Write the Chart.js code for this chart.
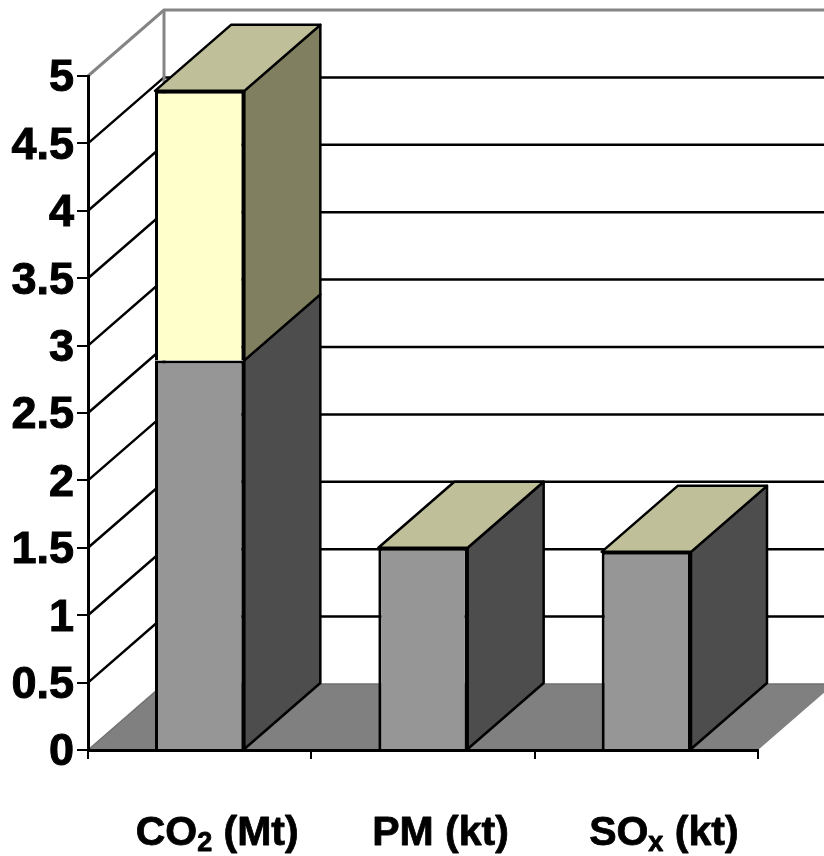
<!DOCTYPE html>
<html>
<head>
<meta charset="utf-8">
<title>Emissions</title>
<script src="https://cdn.jsdelivr.net/npm/chart.js@4"></script>
<style>
    html, body { margin: 0; padding: 0; background: #fff; }
    canvas { display: block; }
</style>
</head>
<body>
<canvas id="emissionsChart" width="824" height="856"></canvas>
<script>
const categories = ['CO₂ (Mt)', 'PM (kt)', 'SOₓ (kt)'];
const lowerValues = [2.89, 1.5, 1.47];
const upperValues = [2.0, null, null];

const depthX = 76;
const depthY = -66;
const fontFamily = '"Liberation Sans", Arial, sans-serif';
const subscripts = { '₂': '2', 'ₓ': 'x' };

// walls and floor sit behind the axes
const backdrop = {
    id: 'backdrop',
    beforeDraw(chart) {
        const { ctx, scales: { x, y } } = chart;
        const left = x.left;
        const right = x.right;
        const floorY = y.getPixelForValue(0);

        ctx.save();
        ctx.fillStyle = '#808080';
        ctx.beginPath();
        ctx.moveTo(left, floorY);
        ctx.lineTo(left + depthX, floorY + depthY);
        ctx.lineTo(right + depthX, floorY + depthY);
        ctx.lineTo(right, floorY);
        ctx.closePath();
        ctx.fill();

        y.ticks.forEach(tick => {
            const py = y.getPixelForValue(tick.value);
            const top = tick.value === 5;
            const floor = tick.value === 0;
            ctx.strokeStyle = top ? '#858585' : floor ? '#707070' : '#000';
            ctx.lineWidth = top ? 3 : floor ? 1.5 : 2.5;
            ctx.beginPath();
            ctx.moveTo(left, py);
            ctx.lineTo(left + depthX, py + depthY);
            ctx.lineTo(right + depthX, py + depthY);
            ctx.stroke();
        });

        ctx.strokeStyle = '#858585';
        ctx.lineWidth = 3;
        ctx.beginPath();
        ctx.moveTo(left + depthX, y.getPixelForValue(5) + depthY);
        ctx.lineTo(left + depthX, floorY + depthY);
        ctx.stroke();
        ctx.restore();
    }
};

const face = (ctx, points, fill) => {
    ctx.fillStyle = fill;
    ctx.beginPath();
    points.forEach(([px, py], i) => (i ? ctx.lineTo(px, py) : ctx.moveTo(px, py)));
    ctx.closePath();
    ctx.fill();
    ctx.stroke();
};

// side and top faces of the bars, taken from the bar elements
const barDepth = {
    id: 'barDepth',
    beforeDatasetsDraw(chart) {
        const { ctx } = chart;
        ctx.save();
        ctx.strokeStyle = '#000';
        ctx.lineWidth = 2.5;
        ctx.lineJoin = 'round';

        categories.forEach((_, index) => {
            let topBar = null;
            chart.data.datasets.forEach((dataset, d) => {
                const bar = chart.getDatasetMeta(d).data[index];
                if (dataset.data[index] === null) return;
                const right = bar.x + bar.width / 2;
                face(ctx, [
                    [right, bar.y],
                    [right + depthX, bar.y + depthY],
                    [right + depthX, bar.base + depthY],
                    [right, bar.base]
                ], dataset.sideColor);
                topBar = bar;
            });

            const left = topBar.x - topBar.width / 2;
            const right = topBar.x + topBar.width / 2;
            face(ctx, [
                [left, topBar.y],
                [left + depthX, topBar.y + depthY],
                [right + depthX, topBar.y + depthY],
                [right, topBar.y]
            ], '#bfbf99');
        });
        ctx.restore();
    }
};

// category labels need real subscripts, so they are measured and drawn in parts
const categoryLabels = {
    id: 'categoryLabels',
    afterDraw(chart) {
        const { ctx, scales: { x } } = chart;
        const size = 41;
        const subSize = 27;
        const baseline = 845;
        ctx.save();
        ctx.fillStyle = '#000';
        ctx.strokeStyle = '#000';
        ctx.lineWidth = 0.8;
        ctx.lineJoin = 'round';
        ctx.textAlign = 'left';
        ctx.textBaseline = 'alphabetic';

        categories.forEach((label, index) => {
            const parts = label.split(/([₂ₓ])/).filter(Boolean).map(text => {
                const sub = subscripts[text];
                const font = `bold ${sub ? subSize : size}px ${fontFamily}`;
                ctx.font = font;
                const shown = sub || text;
                return { text: shown, font, sub: Boolean(sub), width: ctx.measureText(shown).width };
            });
            const total = parts.reduce((sum, part) => sum + part.width, 0);
            let px = x.getPixelForTick(index) + 17.5 - total / 2;
            parts.forEach(part => {
                const py = part.sub ? baseline + 6 : baseline;
                ctx.font = part.font;
                ctx.fillText(part.text, px, py);
                ctx.strokeText(part.text, px, py);
                px += part.width;
            });
        });
        ctx.restore();
    }
};

new Chart(document.getElementById('emissionsChart'), {
    type: 'bar',
    data: {
        labels: categories,
        datasets: [
            { data: lowerValues, backgroundColor: '#969696', sideColor: '#4d4d4d', borderColor: '#000', borderWidth: 3 },
            { data: upperValues, backgroundColor: '#ffffcc', sideColor: '#808060', borderColor: '#000', borderWidth: 3 }
        ]
    },
    options: {
        responsive: false,
        animation: false,
        layout: { padding: { top: 76, right: 66, left: 0, bottom: 0 } },
        plugins: {
            legend: { display: false },
            tooltip: { enabled: false }
        },
        datasets: { bar: { categoryPercentage: 0.4, barPercentage: 1 } },
        scales: {
            x: {
                stacked: true,
                afterFit: scale => { scale.height = 106; },
                grid: { offset: true, drawOnChartArea: false, color: '#000', lineWidth: 2, tickLength: 9 },
                border: { color: '#000', width: 3 },
                ticks: { callback: () => '', maxRotation: 0 }
            },
            y: {
                stacked: true,
                min: 0,
                max: 5,
                afterFit: scale => { scale.width = 88; },
                grid: { drawOnChartArea: false, color: '#000', lineWidth: 2, tickLength: 11 },
                border: { color: '#000', width: 3 },
                ticks: {
                    stepSize: 0.5,
                    autoSkip: false,
                    padding: 3,
                    labelOffset: 3,
                    color: '#000',
                    textStrokeColor: '#000',
                    textStrokeWidth: 1,
                    font: { family: fontFamily, size: 45, weight: 'bold' },
                    callback: value => String(value)
                }
            }
        }
    },
    plugins: [backdrop, barDepth, categoryLabels]
});
</script>
</body>
</html>
